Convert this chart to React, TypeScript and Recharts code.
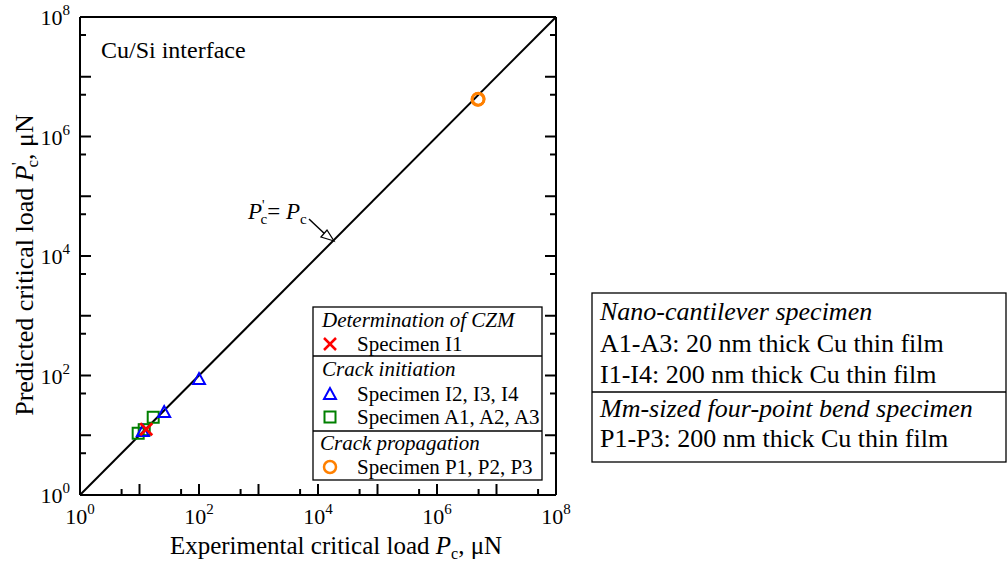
import React from 'react';
import { ScatterChart, Scatter, XAxis, YAxis, ReferenceLine } from 'recharts';

// values (µN)
const czmX = [13];
const czmY = [12.6];
const initIX = [11.4, 26, 100];
const initIY = [11.8, 24.5, 87];
const initAX = [9.5, 12, 17];
const initAY = [10.8, 12.4, 20];
const propX = [4.85e6, 4.9e6, 4.95e6];
const propY = [4.15e6, 4.2e6, 4.25e6];

const decadeTicks = [1, 1e1, 1e2, 1e3, 1e4, 1e5, 1e6, 1e7, 1e8];
const minorTicks = [5, 5e1, 5e2, 5e3, 5e4, 5e5, 5e6, 5e7];
const allTicks = [...decadeTicks, ...minorTicks].sort((a, b) => a - b);

const toPoints = (xs: number[], ys: number[]) => xs.map((x, i) => ({ x, y: ys[i] }));

const W = 1007;
const H = 561;
const PLOT = { left: 80, right: 556, top: 17, bottom: 495 };
const FONT = '"Liberation Serif", "Times New Roman", serif';

const tickInfo = (v: number) => {
  const e = Math.round(Math.log10(v));
  const major = Math.abs(Math.log10(v) - e) < 1e-6;
  return { e, major, len: major ? 11 : 6 };
};

const BottomTick = (p: any) => {
  const { e, major, len } = tickInfo(p.payload.value);
  const x = p.x;
  return (
    <g>
      <line x1={x} x2={x} y1={PLOT.bottom} y2={PLOT.bottom - len} stroke="#000" strokeWidth={2} />
      {major && e % 2 === 0 && (
        <text x={x} y={PLOT.bottom + 29} textAnchor="middle" fontFamily={FONT} fontSize={22} fill="#000">
          10<tspan dy={-10} fontSize={15}>{e}</tspan>
        </text>
      )}
    </g>
  );
};

const TopTick = (p: any) => {
  const { len } = tickInfo(p.payload.value);
  return <line x1={p.x} x2={p.x} y1={PLOT.top} y2={PLOT.top + len} stroke="#000" strokeWidth={2} />;
};

const LeftTick = (p: any) => {
  const { e, major, len } = tickInfo(p.payload.value);
  const y = p.y;
  return (
    <g>
      <line x1={PLOT.left} x2={PLOT.left + len} y1={y} y2={y} stroke="#000" strokeWidth={2} />
      {major && e % 2 === 0 && (
        <text x={PLOT.left - 10} y={y + 8} textAnchor="end" fontFamily={FONT} fontSize={22} fill="#000">
          10<tspan dy={-10} fontSize={15}>{e}</tspan>
        </text>
      )}
    </g>
  );
};

const RightTick = (p: any) => {
  const { len } = tickInfo(p.payload.value);
  return <line x1={PLOT.right} x2={PLOT.right - len} y1={p.y} y2={p.y} stroke="#000" strokeWidth={2} />;
};

const Cross = ({ cx, cy }: any) => (
  <g stroke="#ff0000" strokeWidth={2.5}>
    <line x1={cx - 6} y1={cy - 6} x2={cx + 6} y2={cy + 6} />
    <line x1={cx - 6} y1={cy + 6} x2={cx + 6} y2={cy - 6} />
  </g>
);
const Triangle = ({ cx, cy }: any) => (
  <polygon points={`${cx},${cy - 6} ${cx - 6},${cy + 5} ${cx + 6},${cy + 5}`} fill="none" stroke="#0000ff" strokeWidth={2} />
);
const Square = ({ cx, cy }: any) => (
  <rect x={cx - 5.5} y={cy - 5.5} width={11} height={11} fill="none" stroke="#008000" strokeWidth={2} />
);
const Ring = ({ cx, cy }: any) => (
  <circle cx={cx} cy={cy} r={6} fill="none" stroke="#ff8000" strokeWidth={2.5} />
);

const Overlay = () => (
  <svg width={W} height={H} style={{ position: 'absolute', left: 0, top: 0, pointerEvents: 'none' }} fontFamily={FONT} fill="#000">
    <text x={101} y={58} fontSize={24}>Cu/Si interface</text>

    {/* diagonal annotation */}
    <text x={248} y={219} fontSize={23}>
      <tspan fontStyle="italic">P</tspan>
      <tspan dy={-9} fontSize={14}>'</tspan>
      <tspan dx={-4} dy={14} fontSize={15}>c</tspan>
      <tspan dy={-5}>= </tspan>
      <tspan fontStyle="italic">P</tspan>
      <tspan dy={5} fontSize={15}>c</tspan>
    </text>
    <line x1={309} y1={219} x2={327} y2={236} stroke="#000" strokeWidth={1.5} />
    <polygon points="334,241 321,237 327,230" fill="#fff" stroke="#000" strokeWidth={1.3} />

    {/* legend box */}
    <rect x={313} y={307} width={229} height={173} fill="#fff" stroke="#000" strokeWidth={1.3} />
    <line x1={313} x2={542} y1={356} y2={356} stroke="#000" strokeWidth={1.3} />
    <line x1={313} x2={542} y1={431} y2={431} stroke="#000" strokeWidth={1.3} />
    <g fontSize={21}>
      <text x={322} y={327} fontStyle="italic">Determination of CZM</text>
      <Cross cx={330} cy={344} />
      <text x={357} y={351}>Specimen I1</text>
      <text x={322} y={376} fontStyle="italic">Crack initiation</text>
      <Triangle cx={330} cy={394} />
      <text x={357} y={401}>Specimen I2, I3, I4</text>
      <Square cx={330} cy={417} />
      <text x={357} y={424}>Specimen A1, A2, A3</text>
      <text x={320} y={450} fontStyle="italic">Crack propagation</text>
      <Ring cx={330} cy={467} />
      <text x={357} y={474}>Specimen P1, P2, P3</text>
    </g>

    {/* axis titles */}
    <text x={336} y={554} fontSize={25} textAnchor="middle">
      Experimental critical load <tspan fontStyle="italic">P</tspan>
      <tspan dy={5} fontSize={16}>c</tspan>
      <tspan dy={-5}>, μN</tspan>
    </text>
    <text transform="translate(33,265) rotate(-90)" fontSize={26} textAnchor="middle">
      Predicted critical load <tspan fontStyle="italic">P</tspan>
      <tspan dy={-10} fontSize={16}>'</tspan>
      <tspan dx={-5} dy={15} fontSize={17}>c</tspan>
      <tspan dy={-5}>, μN</tspan>
    </text>

    {/* specimen description box */}
    <rect x={592} y={293} width={414} height={169} fill="#fff" stroke="#000" strokeWidth={1.3} />
    <line x1={592} x2={1006} y1={392} y2={392} stroke="#000" strokeWidth={1.3} />
    <g fontSize={26}>
      <text x={600} y={320} fontStyle="italic">Nano-cantilever specimen</text>
      <text x={600} y={352}>A1-A3: 20 nm thick Cu thin film</text>
      <text x={600} y={383}>I1-I4: 200 nm thick Cu thin film</text>
      <text x={600} y={417} fontStyle="italic">Mm-sized four-point bend specimen</text>
      <text x={600} y={447}>P1-P3: 200 nm thick Cu thin film</text>
    </g>
  </svg>
);

export default function App() {
  return (
    <div style={{ position: 'absolute', left: 0, top: 0, width: W, height: H, background: '#fff' }}>
      <ScatterChart
        width={W}
        height={H}
        margin={{ top: PLOT.top - 1, right: W - PLOT.right - 1, bottom: H - PLOT.bottom - 1, left: PLOT.left - 1 }}
      >
        <XAxis xAxisId="b" dataKey="x" type="number" scale="log" domain={[1, 1e8]} allowDataOverflow
          ticks={allTicks} interval={0} height={1} tickSize={0} tickLine={false}
          axisLine={{ stroke: '#000', strokeWidth: 2 }} tick={(p: any) => <BottomTick {...p} />} />
        <XAxis xAxisId="t" orientation="top" type="number" scale="log" domain={[1, 1e8]} allowDataOverflow
          ticks={allTicks} interval={0} height={1} tickSize={0} tickLine={false}
          axisLine={{ stroke: '#000', strokeWidth: 2 }} tick={(p: any) => <TopTick {...p} />} />
        <YAxis yAxisId="l" dataKey="y" type="number" scale="log" domain={[1, 1e8]} allowDataOverflow
          ticks={allTicks} interval={0} width={1} tickSize={0} tickLine={false}
          axisLine={{ stroke: '#000', strokeWidth: 2 }} tick={(p: any) => <LeftTick {...p} />} />
        <YAxis yAxisId="r" orientation="right" type="number" scale="log" domain={[1, 1e8]} allowDataOverflow
          ticks={allTicks} interval={0} width={1} tickSize={0} tickLine={false}
          axisLine={{ stroke: '#000', strokeWidth: 2 }} tick={(p: any) => <RightTick {...p} />} />
        <ReferenceLine xAxisId="b" yAxisId="l" segment={[{ x: 1, y: 1 }, { x: 1e8, y: 1e8 }]}
          stroke="#000" strokeWidth={2} ifOverflow="hidden" />
        <Scatter xAxisId="b" yAxisId="l" data={toPoints(initAX, initAY)} shape={Square} isAnimationActive={false} />
        <Scatter xAxisId="b" yAxisId="l" data={toPoints(initIX, initIY)} shape={Triangle} isAnimationActive={false} />
        <Scatter xAxisId="b" yAxisId="l" data={toPoints(czmX, czmY)} shape={Cross} isAnimationActive={false} />
        <Scatter xAxisId="b" yAxisId="l" data={toPoints(propX, propY)} shape={Ring} isAnimationActive={false} />
      </ScatterChart>
      <Overlay />
    </div>
  );
}
